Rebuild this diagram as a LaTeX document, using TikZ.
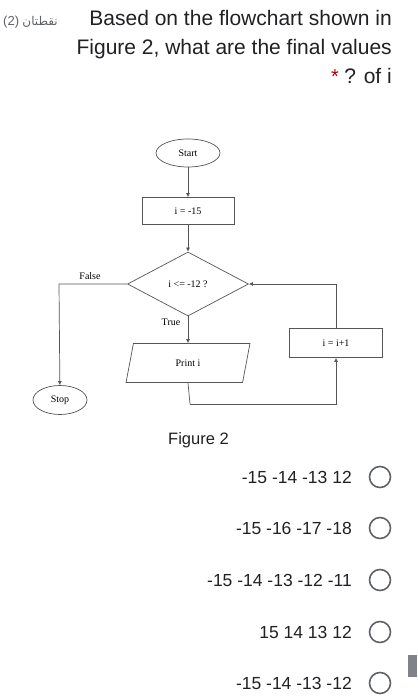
\documentclass[tikz,border=0pt]{standalone}
\usepackage{fontspec}
\setmainfont{Liberation Sans}
\newfontfamily\serifflow{Liberation Serif}
\newfontfamily\arabicfont[Script=Arabic]{DejaVu Sans}
\usetikzlibrary{shapes.geometric,arrows.meta}
\TeXXeTstate=1
\definecolor{txt}{HTML}{202124}
\definecolor{gline}{HTML}{555555}
\definecolor{radio}{HTML}{5F6368}
\tikzset{
  flow/.style={draw=gline, line width=0.7pt, font=\serifflow\fontsize{10}{12}\selectfont, text=black},
  term/.style={flow, ellipse, minimum width=64pt, minimum height=28pt, inner sep=0pt},
  proc/.style={flow, rectangle, minimum width=92pt, minimum height=27pt, inner sep=0pt},
  cond/.style={flow, diamond, minimum width=121pt, minimum height=64pt, inner sep=0pt, aspect=1.9},
  io/.style={flow, trapezium, trapezium left angle=76, trapezium right angle=104, minimum width=124pt, minimum height=39pt, inner sep=0pt, trapezium stretches=true},
  conn/.style={draw=gline, line width=0.7pt, -{Latex[length=4pt,width=4pt]}},
  plain/.style={draw=gline, line width=0.7pt},
  lbl/.style={font=\serifflow\fontsize{10}{12}\selectfont, text=black, inner sep=0pt},
  head/.style={font=\fontsize{21}{25}\selectfont, text=txt, inner sep=0pt, anchor=base east},
  opt/.style={font=\fontsize{17.5}{21}\selectfont, text=txt, inner sep=0pt, anchor=base east},
  rad/.style={draw=radio, line width=1.6pt, circle, minimum size=21pt, inner sep=0pt}
}
\begin{document}
\begin{tikzpicture}[x=1pt,y=-1pt]
\useasboundingbox[fill=white] (0,0) rectangle (417,700);
% header
\node[inner sep=0pt, anchor=base west, font=\fontsize{13}{15}\selectfont, text=radio] (pts) at (3,26) {(2)};
\node[inner sep=0pt, anchor=base west, text=radio] (ar) at ([xshift=3pt]pts.base east) {\arabicfont\fontsize{12}{14}\selectfont\beginR نقطتان\endR};
\node[head] (h1) at (392,26) {Based on the flowchart shown in};
\node[head] (h2) at (392,55) {Figure 2, what are the final values};
\node[head] (h3) at (392,84) {? of i};
\node[inner sep=0pt, anchor=base east, font=\fontsize{20}{24}\selectfont, text=red!70!black] (star) at ([xshift=-5pt]h3.base west) {*};
% flowchart
\node[term] (start) at (188,153) {Start};
\node[proc] (init) at (188,211) {i = -15};
\node[cond] (dec) at (188,284) {i <= -12 ?};
\node[io] (print) at (188,363) {Print i};
\node[proc, minimum width=93pt, minimum height=29pt] (inc) at (336,343) {i = i+1};
\node[term, minimum width=54pt, minimum height=29pt] (stop) at (60,400) {Stop};
\coordinate (fl) at (59,284);
\coordinate (pb) at (190,404);
\coordinate (pr) at (336,404);
\coordinate (it) at (336,284);
\draw[conn] (start) -- (init);
\draw[conn] (init) -- (dec);
\draw[conn] (dec) -- (print);
\draw[conn] (dec.west) -- (fl) -- (stop);
\draw[plain] (print.south) -- (pb);
\draw[conn] (pb) -- (pr) -- (inc);
\draw[conn] (inc) -- (it) -- (dec.east);
\node[lbl] (flbl) at (90,276) {False};
\node[lbl] (tlbl) at (171,322) {True};
% figure caption and options
\node[inner sep=0pt, anchor=base west, font=\fontsize{16.5}{20}\selectfont, text=txt] (fig) at (168,444) {Figure 2};
\node[opt] (o1) at (352,483) {-15 -14 -13 12};
\node[opt] (o2) at (352,534) {-15 -16 -17 -18};
\node[opt] (o3) at (352,586) {-15 -14 -13 -12 -11};
\node[opt] (o4) at (352,638) {15 14 13 12};
\node[opt] (o5) at (352,689) {-15 -14 -13 -12};
\node[rad] (r1) at (380,477) {};
\node[rad] (r2) at (380,528) {};
\node[rad] (r3) at (380,580) {};
\node[rad] (r4) at (380,632) {};
\node[rad] (r5) at (380,683) {};
\fill[radio!80] (408,655) rectangle (417,677);
\end{tikzpicture}
\end{document}
